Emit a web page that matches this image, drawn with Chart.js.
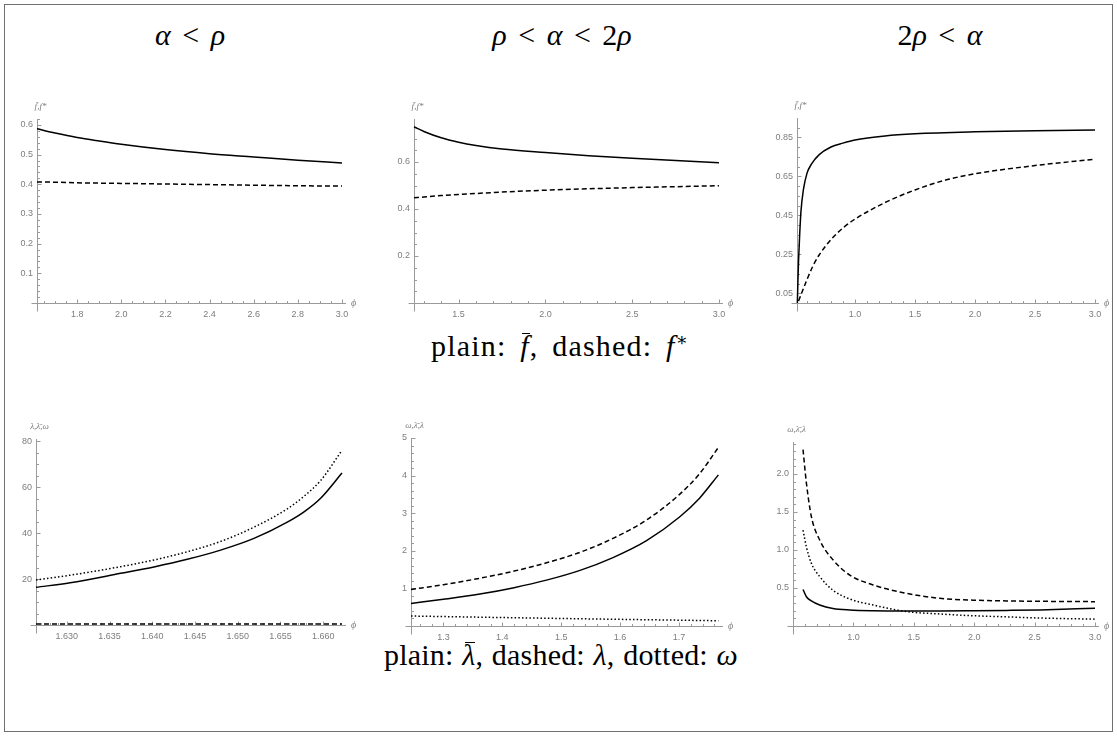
<!DOCTYPE html>
<html><head><meta charset="utf-8">
<script src="https://cdn.jsdelivr.net/npm/chart.js@4.4.1/dist/chart.umd.min.js"></script>
<style>
html,body{margin:0;padding:0;background:#fff;}
#page{position:relative;width:1117px;height:736px;overflow:hidden;background:#fff;}
#frame{position:absolute;left:4px;top:4px;width:1109px;height:728px;border:1px solid #707070;box-sizing:border-box;}
.tx{position:absolute;transform:translate(-50%,-50%);white-space:nowrap;font-family:"Liberation Serif","DejaVu Serif",serif;color:#000;font-size:30px;}
.ttl{word-spacing:4px;}
.cap1{letter-spacing:1.2px;word-spacing:5px;}
.cap2{letter-spacing:0.2px;word-spacing:1px;}
.tx sup{font-size:0.6em;vertical-align:0.55em;line-height:0;}
.ob{display:inline-block;position:relative;}
.ob::after{content:'';position:absolute;left:22%;right:0%;top:0.12em;border-top:1.5px solid #000;}
canvas{position:absolute;}
</style></head><body><div id="page"><div id="frame"></div>
<div class="tx ttl" style="left:190px;top:35px"><i>α</i> &lt; <i>ρ</i></div>
<div class="tx ttl" style="left:562px;top:35px"><i>ρ</i> &lt; <i>α</i> &lt; 2<i>ρ</i></div>
<div class="tx ttl" style="left:940px;top:35px">2<i>ρ</i> &lt; <i>α</i></div>
<div class="tx cap1" style="left:560px;top:346px">plain: <i class="ob">f</i>, dashed: <i>f</i><sup>∗</sup></div>
<div class="tx cap2" style="left:561px;top:655px">plain: <i class="ob">λ</i>, dashed: <i>λ</i>, dotted: <i>ω</i></div>
<canvas id="c1"></canvas><canvas id="c2"></canvas><canvas id="c3"></canvas>
<canvas id="c4"></canvas><canvas id="c5"></canvas><canvas id="c6"></canvas>
</div>
<script>
// ================= DATA =================
// Panel 1: alpha < rho  (f-bar solid, f* dashed)
const p1Phi   = [1.618, 1.7, 1.8, 1.9, 2.0, 2.2, 2.4, 2.6, 2.8, 3.0];
const p1FBar  = [0.587, 0.573, 0.558, 0.546, 0.535, 0.517, 0.503, 0.492, 0.481, 0.472];
const p1FStar = [0.408, 0.407, 0.405, 0.404, 0.403, 0.401, 0.399, 0.397, 0.395, 0.394];
const p1XTicks = ['1.8','2.0','2.2','2.4','2.6','2.8','3.0'];
const p1YTicks = ['0.1','0.2','0.3','0.4','0.5','0.6'];

// Panel 2: rho < alpha < 2 rho
const p2Phi   = [1.243, 1.3, 1.4, 1.5, 1.6, 1.75, 2.0, 2.25, 2.5, 2.75, 3.0];
const p2FBar  = [0.750, 0.730, 0.703, 0.684, 0.670, 0.655, 0.640, 0.627, 0.616, 0.606, 0.597];
const p2FStar = [0.448, 0.451, 0.457, 0.462, 0.466, 0.472, 0.480, 0.486, 0.491, 0.495, 0.499];
const p2XTicks = ['1.5','2.0','2.5','3.0'];
const p2YTicks = ['0.2','0.4','0.6'];

// Panel 3: 2 rho < alpha
const p3PhiSolid = [0.52, 0.525, 0.53, 0.54, 0.55, 0.57, 0.6, 0.64, 0.7, 0.8, 0.9, 1.0, 1.25, 1.5, 2.0, 2.5, 3.0];
const p3FBar     = [0.0, 0.12, 0.22, 0.36, 0.47, 0.58, 0.665, 0.715, 0.76, 0.80, 0.82, 0.836, 0.857, 0.868, 0.878, 0.883, 0.887];
const p3PhiDash  = [0.53, 0.6, 0.65, 0.7, 0.8, 0.9, 1.0, 1.25, 1.5, 1.75, 2.0, 2.5, 3.0];
const p3FStar    = [0.01, 0.12, 0.19, 0.245, 0.325, 0.385, 0.43, 0.515, 0.58, 0.63, 0.663, 0.705, 0.738];
const p3XTicks = ['1.0','1.5','2.0','2.5','3.0'];
const p3YTicks = ['0.05','0.25','0.45','0.65','0.85'];

// Panel 4: alpha < rho  (lambda-bar solid, lambda dashed, omega dotted)
const p4Phi       = [1.6264, 1.6304, 1.6363, 1.6402, 1.6441, 1.6480, 1.6519, 1.6558, 1.6578, 1.6597, 1.6622];
const p4LambdaBar = [16.4, 18.4, 22.5, 25.3, 28.6, 32.6, 37.7, 44.8, 49.4, 55.2, 66.2];
const p4Omega     = [19.6, 21.7, 25.4, 28.3, 31.9, 36.4, 42.6, 50.6, 56.2, 62.9, 76.1];
const p4LambdaPhi = [1.6264, 1.6622];
const p4Lambda    = [0.45, 0.40];
const p4XTicks = ['1.630','1.635','1.640','1.645','1.650','1.655','1.660'];
const p4YTicks = ['20','40','60','80'];

// Panel 5: rho < alpha < 2 rho
const p5Phi       = [1.245, 1.30, 1.362, 1.42, 1.475, 1.532, 1.588, 1.645, 1.701, 1.735, 1.767];
const p5LambdaBar = [0.60, 0.71, 0.85, 1.02, 1.22, 1.48, 1.82, 2.27, 2.90, 3.40, 4.02];
const p5Lambda    = [0.97, 1.10, 1.27, 1.46, 1.68, 1.96, 2.33, 2.82, 3.50, 4.05, 4.75];
const p5OmegaPhi  = [1.245, 1.5, 1.767];
const p5Omega     = [0.265, 0.20, 0.14];
const p5XTicks = ['1.3','1.4','1.5','1.6','1.7'];
const p5YTicks = ['1','2','3','4','5'];

// Panel 6: 2 rho < alpha
const p6Phi       = [0.583, 0.611, 0.652, 0.721, 0.831, 0.970, 1.163, 1.440, 1.715, 1.991, 2.268, 2.544, 3.0];
const p6LambdaBar = [0.48, 0.385, 0.33, 0.276, 0.23, 0.21, 0.20, 0.197, 0.197, 0.20, 0.205, 0.212, 0.233];
const p6Lambda    = [2.32, 1.88, 1.44, 1.13, 0.87, 0.67, 0.54, 0.43, 0.364, 0.34, 0.33, 0.325, 0.32];
const p6Omega     = [1.26, 1.04, 0.825, 0.65, 0.47, 0.355, 0.276, 0.19, 0.158, 0.135, 0.12, 0.105, 0.09];
const p6XTicks = ['1.0','1.5','2.0','2.5','3.0'];
const p6YTicks = ['0.5','1.0','1.5','2.0'];

// ================= STYLE / LAYOUT =================
const SOLID = [], DASHED = [5, 3], DOTTED = [1.5, 2.2];
const AXIS_COLOR = '#9a9a9a', LABEL_COLOR = '#7d7d7d';
const TICK_FONT = {family: '"Liberation Sans Narrow","Liberation Sans",Arial,sans-serif', size: 9};
const PL = 40, PR = 26, PT = 26, PB = 24;

const axesPlugin = {
  id: 'mmaAxes',
  beforeDatasetsDraw(chart, args, o) {
    const {ctx, scales: {x, y}} = chart;
    ctx.save();
    ctx.strokeStyle = AXIS_COLOR; ctx.lineWidth = 1;
    const y0 = Math.round(y.getPixelForValue(0)) + 0.5;
    const xl = Math.round(x.getPixelForValue(x.min)) + 0.5;
    const xr = x.getPixelForValue(x.max);
    const yt = y.getPixelForValue(y.max);
    ctx.beginPath();
    ctx.moveTo(xl - 6, y0); ctx.lineTo(xr + 4, y0);
    ctx.moveTo(xl, yt); ctx.lineTo(xl, y0 + 8);
    const xMaj = x.ticks.map(t => t.value), yMaj = y.ticks.map(t => t.value);
    xMaj.forEach(v => { const p = Math.round(x.getPixelForValue(v)) + 0.5; ctx.moveTo(p, y0); ctx.lineTo(p, y0 - 4); });
    yMaj.forEach(v => { const p = Math.round(y.getPixelForValue(v)) + 0.5; ctx.moveTo(xl, p); ctx.lineTo(xl + 4, p); });
    for (let k = Math.ceil(x.min / o.xMinor - 1e-6); k * o.xMinor <= x.max + 1e-9; k++) {
      const v = k * o.xMinor;
      if (xMaj.some(a => Math.abs(a - v) < o.xMinor * 0.01)) continue;
      const p = Math.round(x.getPixelForValue(v)) + 0.5; ctx.moveTo(p, y0); ctx.lineTo(p, y0 - 2.5);
    }
    for (let k = Math.ceil(y.min / o.yMinor + 1e-6); k * o.yMinor <= y.max + 1e-9; k++) {
      const v = k * o.yMinor;
      if (yMaj.some(a => Math.abs(a - v) < o.yMinor * 0.01)) continue;
      const p = Math.round(y.getPixelForValue(v)) + 0.5; ctx.moveTo(xl, p); ctx.lineTo(xl + 2.5, p);
    }
    ctx.stroke();
    ctx.fillStyle = LABEL_COLOR;
    ctx.font = 'italic 9px "Liberation Serif","DejaVu Serif",serif';
    ctx.textAlign = 'center'; ctx.textBaseline = 'alphabetic';
    ctx.fillText(o.yLabel, xl + 3, yt - 10);
    ctx.font = 'italic 10px "Liberation Serif","DejaVu Serif",serif';
    ctx.textAlign = 'left'; ctx.textBaseline = 'middle';
    ctx.fillText('ϕ', xr + 9, y0);
    ctx.restore();
  }
};

function ds(xs, ys, dash) {
  return {data: xs.map((v, i) => ({x: v, y: ys[i]})), showLine: true, borderColor: '#000',
    borderWidth: 1.5, borderDash: dash, pointRadius: 0, fill: false, clip: false,
    cubicInterpolationMode: 'monotone', borderCapStyle: 'butt'};
}

function makePanel(id, box, xMin, xMax, yMax, xTicks, yTicks, xMinor, yMinor, yLabel, datasets) {
  const cv = document.getElementById(id);
  const w = box.x1 - box.x0 + PL + PR, h = box.yb - box.yt + PT + PB;
  cv.width = w; cv.height = h;
  cv.style.left = (box.x0 - PL) + 'px'; cv.style.top = (box.yt - PT) + 'px';
  cv.style.width = w + 'px'; cv.style.height = h + 'px';
  const xv = xTicks.map(Number), yv = yTicks.map(Number);
  new Chart(cv, {
    type: 'scatter',
    data: {datasets},
    options: {
      responsive: false, animation: false, devicePixelRatio: 1,
      layout: {padding: {left: 0, top: PT, right: PR, bottom: 0}},
      plugins: {legend: {display: false}, tooltip: {enabled: false}, mmaAxes: {xMinor, yMinor, yLabel}},
      scales: {
        x: {type: 'linear', min: xMin, max: xMax,
          grid: {display: false, drawTicks: false}, border: {display: false},
          ticks: {autoSkip: false, maxRotation: 0, padding: 6, font: TICK_FONT, color: LABEL_COLOR,
            callback: (v, i) => xTicks[i]},
          afterBuildTicks: s => { s.ticks = xv.map(v => ({value: v})); },
          afterFit: s => { s.height = PB; }},
        y: {type: 'linear', min: 0, max: yMax,
          grid: {display: false, drawTicks: false}, border: {display: false},
          ticks: {autoSkip: false, padding: 4, font: TICK_FONT, color: LABEL_COLOR,
            callback: (v, i) => yTicks[i]},
          afterBuildTicks: s => { s.ticks = yv.map(v => ({value: v})); },
          afterFit: s => { s.width = PL; }}
      }
    },
    plugins: [axesPlugin]
  });
}

makePanel('c1', {x0: 37, x1: 342, yb: 303, yt: 119}, 1.618, 3.0, 0.62, p1XTicks, p1YTicks, 0.05, 0.02, 'f\u0304,f*',
  [ds(p1Phi, p1FBar, SOLID), ds(p1Phi, p1FStar, DASHED)]);
makePanel('c2', {x0: 414, x1: 719, yb: 303, yt: 119}, 1.243, 3.0, 0.783, p2XTicks, p2YTicks, 0.1, 0.05, 'f\u0304,f*',
  [ds(p2Phi, p2FBar, SOLID), ds(p2Phi, p2FStar, DASHED)]);
makePanel('c3', {x0: 797, x1: 1095, yb: 303, yt: 118}, 0.517, 3.0, 0.949, p3XTicks, p3YTicks, 0.1, 0.05, 'f\u0304,f*',
  [ds(p3PhiSolid, p3FBar, SOLID), ds(p3PhiDash, p3FStar, DASHED)]);
makePanel('c4', {x0: 36, x1: 342, yb: 625, yt: 439}, 1.6264, 1.6622, 81, p4XTicks, p4YTicks, 0.001, 5, 'λ,λ\u0304,ω',
  [ds(p4Phi, p4LambdaBar, SOLID), ds(p4LambdaPhi, p4Lambda, DASHED), ds(p4Phi, p4Omega, DOTTED)]);
makePanel('c5', {x0: 411, x1: 719, yb: 626, yt: 438}, 1.245, 1.768, 5.0, p5XTicks, p5YTicks, 0.02, 0.2, 'ω,λ\u0304,λ',
  [ds(p5Phi, p5LambdaBar, SOLID), ds(p5Phi, p5Lambda, DASHED), ds(p5OmegaPhi, p5Omega, DOTTED)]);
makePanel('c6', {x0: 793, x1: 1095, yb: 626, yt: 442}, 0.5, 3.0, 2.42, p6XTicks, p6YTicks, 0.1, 0.1, 'ω,λ\u0304,λ',
  [ds(p6Phi, p6LambdaBar, SOLID), ds(p6Phi, p6Lambda, DASHED), ds(p6Phi, p6Omega, DOTTED)]);
</script>
</body></html>
